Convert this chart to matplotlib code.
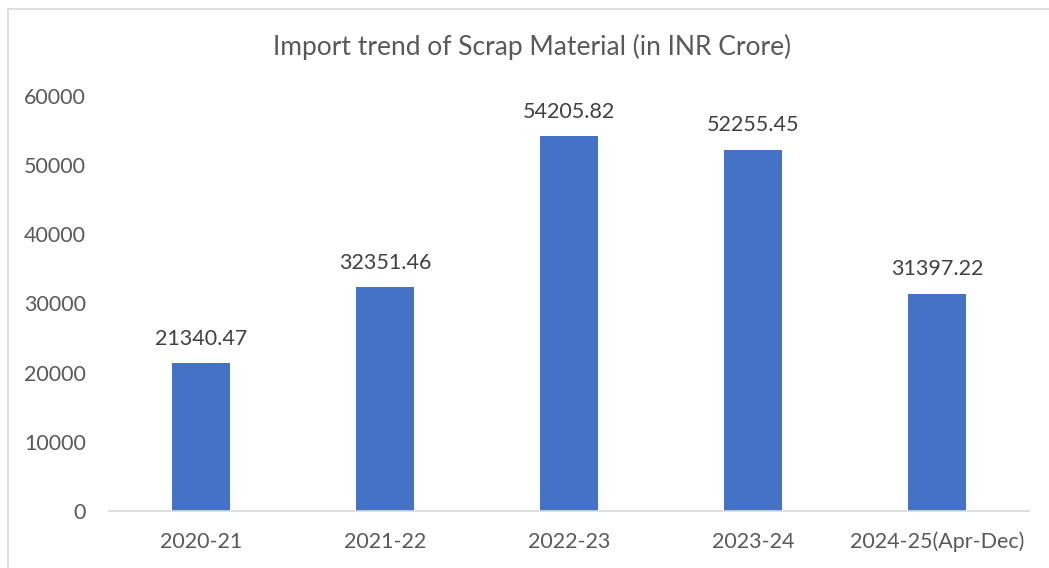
import matplotlib.pyplot as plt
from matplotlib.patches import Rectangle

# data
years = ['2020-21', '2021-22', '2022-23', '2023-24', '2024-25(Apr-Dec)']
imports = [21340.47, 32351.46, 54205.82, 52255.45, 31397.22]
y_ticks = [0, 10000, 20000, 30000, 40000, 50000, 60000]

plt.rcParams['font.family'] = ['Lato', 'DejaVu Sans']

W, H = 1049, 568
fig = plt.figure(figsize=(W / 100, H / 100), dpi=100)
ax = fig.add_axes([109 / W, 1 - 511 / H, 920 / W, (511 - 96) / H])

# chart border
fig.patches.append(Rectangle((8 / W, -0.05), 1.1, 1 - 9 / H + 0.05,
                             transform=fig.transFigure, fill=False,
                             edgecolor='#d9d9d9', linewidth=1.2))

x = range(len(years))
bars = ax.bar(x, imports, width=0.315, color='#4472C4')
for b, v in zip(bars, imports):
    ax.text(b.get_x() + b.get_width() / 2, v + 2100, f'{v:.2f}',
            ha='center', va='bottom', fontsize=15.5, color='#404040')

ax.set_xlim(-0.5, len(years) - 0.5)
ax.set_ylim(0, 60000)
ax.set_yticks(y_ticks)
ax.set_xticks(list(x))
ax.set_xticklabels(years)
ax.tick_params(axis='both', length=0, labelsize=15.5, colors='#595959')
ax.tick_params(axis='y', pad=16.5)
ax.tick_params(axis='x', pad=15)
for s in ['top', 'right', 'left']:
    ax.spines[s].set_visible(False)
ax.spines['bottom'].set_color('#d9d9d9')
ax.spines['bottom'].set_linewidth(1.2)

fig.text(532 / W, 1 - 47 / H, 'Import trend of Scrap Material (in INR Crore)',
         ha='center', va='center', fontsize=19, color='#595959')

fig.savefig('out.png', dpi=100)
